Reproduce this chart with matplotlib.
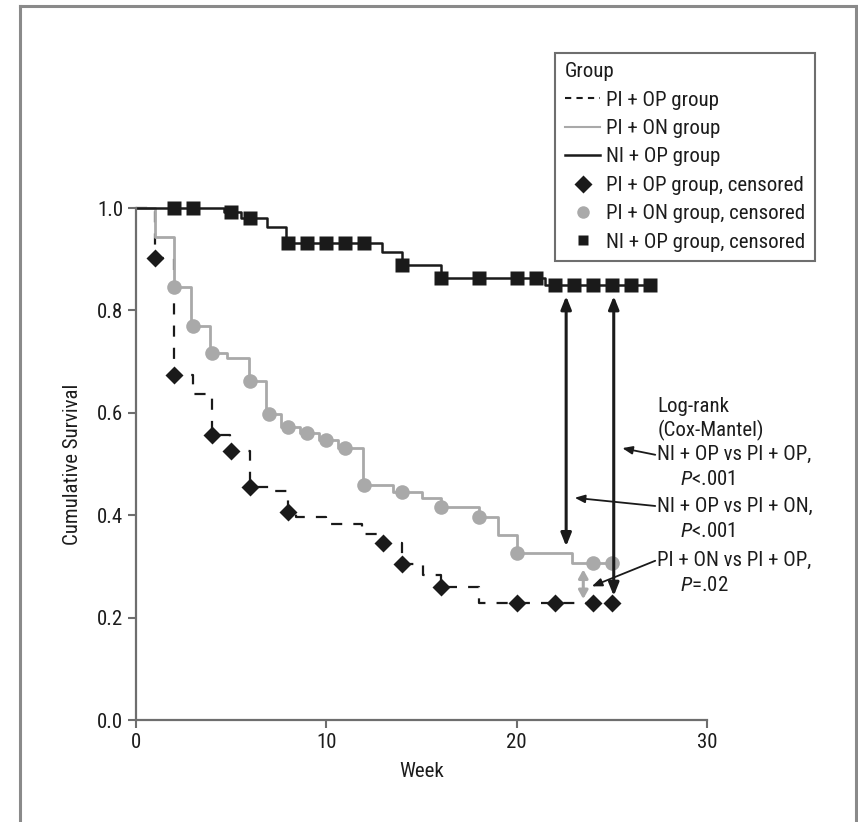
import numpy as np
import matplotlib
matplotlib.use('Agg')
import matplotlib.pyplot as plt
from matplotlib.lines import Line2D
from matplotlib.ticker import FormatStrFormatter

plt.rcParams['font.family'] = ['Roboto Condensed', 'DejaVu Sans']
plt.rcParams['mathtext.fontset'] = 'custom'
plt.rcParams['mathtext.it'] = 'Roboto Condensed:italic'
plt.rcParams['mathtext.rm'] = 'Roboto Condensed'

# Kaplan-Meier curves (week of step, survival after step)
pi_op_step_weeks = [1, 2, 3, 4, 4.95, 6, 7, 8, 8.4, 10, 11.9, 12.9, 14, 15.1, 16, 18]
pi_op_step_surv = [0.902, 0.674, 0.637, 0.557, 0.526, 0.456, 0.447, 0.407, 0.397,
                   0.383, 0.364, 0.346, 0.304, 0.283, 0.260, 0.229]
pi_op_censored = [1, 2, 4, 5, 6, 8, 13, 14, 16, 20, 22, 24, 25]
pi_op_end = 25

pi_on_step_weeks = [1, 2, 2.9, 3.9, 4.8, 5.95, 6.85, 7.6, 8.6, 9.6, 10.6, 11.95,
                    13.5, 15.05, 16, 18, 19, 20, 22.9]
pi_on_step_surv = [0.944, 0.846, 0.770, 0.717, 0.707, 0.663, 0.597, 0.573, 0.560,
                   0.547, 0.531, 0.459, 0.446, 0.433, 0.416, 0.397, 0.361, 0.326, 0.306]
pi_on_censored = [2, 3, 4, 6, 7, 8, 9, 10, 11, 12, 14, 16, 18, 20, 24, 25]
pi_on_end = 25

ni_op_step_weeks = [4.6, 5.5, 6.9, 7.9, 12.9, 14.0, 16.0, 21.5]
ni_op_step_surv = [0.993, 0.981, 0.963, 0.931, 0.915, 0.889, 0.863, 0.850]
ni_op_censored = [2, 3, 5, 6, 8, 9, 10, 11, 12, 14, 16, 18, 20, 21, 22, 23, 24, 25, 26, 27]
ni_op_end = 27

# pairwise log-rank comparisons: (week of arrow, upper group, lower group)
comparisons = [(25.1, 'NI+OP', 'PI+OP'), (22.6, 'NI+OP', 'PI+ON'), (23.5, 'PI+ON', 'PI+OP')]
comparison_labels = ['NI + OP vs PI + OP,', 'NI + OP vs PI + ON,', 'PI + ON vs PI + OP,']
comparison_p = ['$P$<.001', '$P$<.001', '$P$=.02']

black = '#1a1a1a'
gray = '#a9a9a9'
axis_gray = '#6e6e6e'
text_color = '#1c1c1c'
fs = 15

groups = {
    'PI+OP': dict(weeks=pi_op_step_weeks, surv=pi_op_step_surv, cens=pi_op_censored,
                  end=pi_op_end, color=black, ls=(0, (5, 5)), lw=1.6, marker='D', ms=9.5),
    'PI+ON': dict(weeks=pi_on_step_weeks, surv=pi_on_step_surv, cens=pi_on_censored,
                  end=pi_on_end, color=gray, ls='-', lw=2.0, marker='o', ms=10.5),
    'NI+OP': dict(weeks=ni_op_step_weeks, surv=ni_op_step_surv, cens=ni_op_censored,
                  end=ni_op_end, color=black, ls='-', lw=1.8, marker='s', ms=9.5),
}


def surv_at(g, t):
    full = np.concatenate([[1.0], g['surv']])
    idx = np.searchsorted(g['weeks'], t, side='right')
    return full[idx]


fig = plt.figure(figsize=(8.58, 8.22), dpi=100)
ax = fig.add_axes([136 / 858, 1 - 720 / 822, 571 / 858, 512 / 822])

for name, g in groups.items():
    xs = np.concatenate([[0], g['weeks'], [g['end']]])
    ys = np.concatenate([[1.0], g['surv'], [g['surv'][-1]]])
    ax.step(xs, ys, where='post', color=g['color'], ls=g['ls'], lw=g['lw'],
            clip_on=False, zorder=2)
    cy = surv_at(g, np.array(g['cens']))
    ax.plot(g['cens'], cy, ls='none', marker=g['marker'], ms=g['ms'],
            color=g['color'], mec='none', clip_on=False, zorder=3)

# double arrows between curves
for (wk, up, low) in comparisons:
    if up == 'PI+ON':
        col, gap, hs, ms = gray, 0.012, 'head_length=0.45,head_width=0.25', 11
    else:
        col, gap, hs, ms = black, 0.022, 'head_length=0.55,head_width=0.22', 14
    y_top = surv_at(groups[up], wk) - gap
    y_bot = surv_at(groups[low], wk) + gap * 0.6
    ax.annotate('', xy=(wk, y_bot), xytext=(wk, y_top),
                arrowprops=dict(arrowstyle='<|-|>,' + hs, color=col, lw=2.2,
                                shrinkA=0, shrinkB=0, mutation_scale=ms), zorder=4)

# log-rank text block
tx = 27.38
line_y = [0.613, 0.566, 0.518, 0.469, 0.418, 0.369, 0.311, 0.262]
ax.text(tx, line_y[0], 'Log-rank', fontsize=fs, color=text_color, va='center', ha='left')
ax.text(tx, line_y[1], '(Cox-Mantel)', fontsize=fs, color=text_color, va='center', ha='left')
head_y = [0.531, 0.434, 0.261]
for i, (wk, up, low) in enumerate(comparisons):
    y1 = line_y[2 + 2 * i]
    y2 = line_y[3 + 2 * i]
    ax.text(tx, y1, comparison_labels[i], fontsize=fs, color=text_color, va='center', ha='left')
    ax.text(tx + 1.2, y2, comparison_p[i], fontsize=fs, color=text_color, va='center', ha='left')
    ax.annotate('', xy=(wk + 0.45, head_y[i]), xytext=(tx - 0.1, y1),
                arrowprops=dict(arrowstyle='-|>,head_length=0.5,head_width=0.2',
                                color=black, lw=1.3, shrinkA=0, shrinkB=0,
                                mutation_scale=12))

ax.set_xlim(0, 30)
ax.set_ylim(0, 1.0)
ax.set_xticks([0, 10, 20, 30])
ax.set_yticks([0.0, 0.2, 0.4, 0.6, 0.8, 1.0])
ax.yaxis.set_major_formatter(FormatStrFormatter('%.1f'))
for side in ['top', 'right']:
    ax.spines[side].set_visible(False)
for side in ['left', 'bottom']:
    ax.spines[side].set_color(axis_gray)
    ax.spines[side].set_linewidth(1.6)
ax.tick_params(direction='out', length=6, width=1.5, color=axis_gray,
               labelcolor=text_color, labelsize=fs, pad=3)
ax.set_xlabel('Week', fontsize=fs, color=text_color)
ax.set_ylabel('Cumulative Survival', fontsize=fs, color=text_color)
ax.xaxis.set_label_coords(0.5, -0.082)
ax.yaxis.set_label_coords(-0.095, 0.5)

# legend
handles = [
    Line2D([], [], color=black, ls=(0, (3, 2.5)), lw=1.5),
    Line2D([], [], color=gray, ls='-', lw=1.5),
    Line2D([], [], color=black, ls='-', lw=1.8),
    Line2D([], [], ls='none', marker='D', color=black, ms=9, mec='none'),
    Line2D([], [], ls='none', marker='o', color=gray, ms=9, mec='none'),
    Line2D([], [], ls='none', marker='s', color=black, ms=7.5, mec='none'),
]
labels = ['PI + OP group', 'PI + ON group', 'NI + OP group',
          'PI + OP group, censored', 'PI + ON group, censored', 'NI + OP group, censored']
leg = fig.legend(handles, labels, title='Group', loc='upper right',
                 bbox_to_anchor=(815 / 858, 1 - 53 / 822), borderaxespad=0,
                 fontsize=fs, title_fontsize=fs, frameon=True, fancybox=False,
                 edgecolor=axis_gray, framealpha=1, handlelength=1.7,
                 handletextpad=0.3, labelspacing=0.45, borderpad=0.45)
leg._legend_box.align = 'left'
leg.get_frame().set_linewidth(1.5)
for t in leg.get_texts():
    t.set_color(text_color)
leg.get_title().set_color(text_color)

# outer frame of the figure panel
frame_kw = dict(color='#8a8a8a', lw=2.2, transform=fig.transFigure)
fig.add_artist(Line2D([20 / 858, 20 / 858], [0, 1 - 6 / 822], **frame_kw))
fig.add_artist(Line2D([20 / 858, 856 / 858], [1 - 6 / 822, 1 - 6 / 822], **frame_kw))
fig.add_artist(Line2D([856 / 858, 856 / 858], [0, 1 - 6 / 822], **frame_kw))

fig.savefig('out.png', dpi=100)
